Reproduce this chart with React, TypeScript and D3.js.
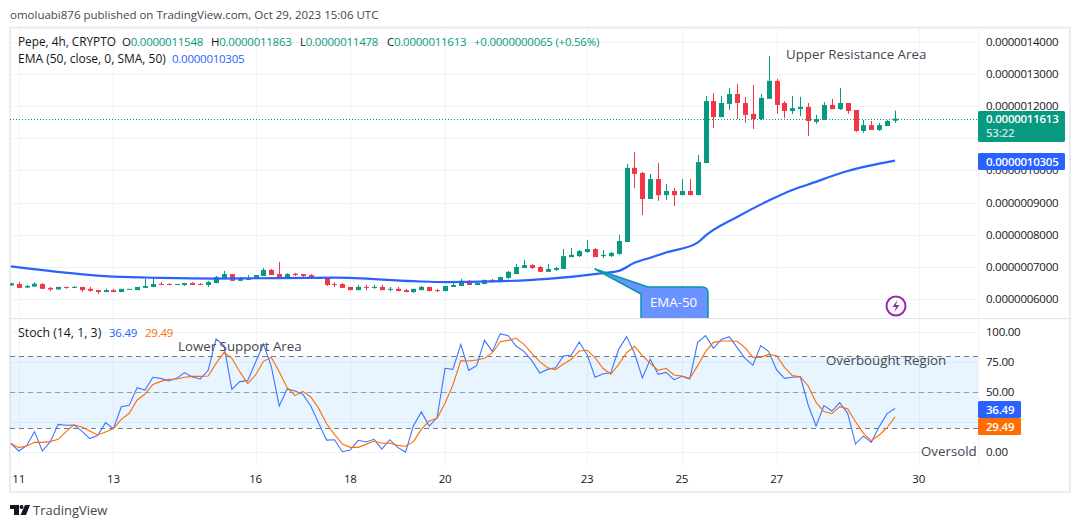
import React from "react";
import * as d3 from "d3";

// Candle values are in units of 0.0000001; first candle sits one bar before the "11" tick
const firstIndex = -1;
const opens = [6.42,6.46,6.35,6.38,6.46,6.34,6.29,6.37,6.35,6.37,6.31,6.27,6.21,6.27,6.21,6.29,6.27,6.34,6.37,6.46,6.46,6.44,6.43,6.49,6.46,6.43,6.49,6.62,6.77,6.56,6.59,6.62,6.71,6.90,6.77,6.65,6.78,6.77,6.74,6.68,6.65,6.46,6.46,6.37,6.27,6.37,6.35,6.37,6.29,6.31,6.27,6.21,6.27,6.37,6.27,6.24,6.37,6.40,6.56,6.43,6.46,6.59,6.52,6.65,6.77,6.96,7.05,6.99,6.84,6.90,6.93,7.30,7.33,7.46,7.55,7.33,7.33,7.40,7.77,10.08,9.92,9.11,9.73,9.23,9.36,9.23,9.36,9.23,10.23,12.16,11.66,12.07,12.38,12.10,11.76,11.60,12.23,12.79,12.10,11.85,11.91,11.98,11.51,11.57,12.04,11.91,12.10,11.88,11.23,11.41,11.26,11.38,11.548];
const highs = [6.50,6.52,6.43,6.52,6.49,6.37,6.37,6.37,6.40,6.37,6.37,6.27,6.31,6.31,6.31,6.31,6.37,6.62,6.68,6.52,6.49,6.46,6.49,6.52,6.49,6.56,6.71,6.87,6.77,6.68,6.74,6.74,6.96,6.93,7.15,6.80,6.81,6.77,6.77,6.68,6.65,6.52,6.49,6.37,6.43,6.43,6.43,6.43,6.37,6.37,6.31,6.31,6.40,6.37,6.31,6.40,6.49,6.62,6.59,6.49,6.59,6.62,6.68,6.87,7.08,7.21,7.08,7.02,7.08,6.99,7.55,7.58,7.52,7.83,7.58,7.52,7.46,7.99,10.20,10.57,9.95,9.89,10.23,9.58,9.45,9.73,9.73,10.48,12.32,12.41,12.32,12.57,12.69,12.29,12.66,12.38,13.56,12.85,12.16,12.32,12.29,12.10,11.73,12.13,12.23,12.57,12.10,11.88,11.57,11.54,11.48,11.57,11.863];
const lows = [6.40,6.34,6.34,6.37,6.31,6.24,6.29,6.31,6.34,6.21,6.22,6.15,6.21,6.21,6.21,6.29,6.27,6.34,6.37,6.43,6.43,6.44,6.40,6.43,6.43,6.37,6.49,6.62,6.56,6.56,6.59,6.62,6.71,6.74,6.65,6.62,6.71,6.68,6.65,6.62,6.40,6.37,6.34,6.27,6.27,6.27,6.31,6.27,6.24,6.24,6.21,6.18,6.27,6.24,6.21,6.24,6.37,6.40,6.43,6.43,6.46,6.52,6.52,6.62,6.77,6.96,6.93,6.84,6.84,6.87,6.93,7.30,7.30,7.43,7.30,7.27,7.30,7.37,7.77,9.45,8.61,9.11,9.05,9.08,8.89,9.23,9.23,9.23,10.23,11.32,11.66,11.88,11.60,11.48,11.29,11.57,12.23,11.76,11.63,11.76,11.69,11.07,11.45,11.57,11.91,11.88,11.76,11.20,11.17,11.26,11.23,11.38,11.478];
const closes = [6.48,6.34,6.40,6.47,6.31,6.29,6.37,6.34,6.37,6.27,6.25,6.21,6.27,6.21,6.31,6.31,6.37,6.40,6.46,6.43,6.43,6.46,6.49,6.43,6.43,6.52,6.68,6.77,6.56,6.65,6.65,6.74,6.90,6.74,6.65,6.77,6.74,6.71,6.65,6.62,6.43,6.43,6.34,6.27,6.37,6.34,6.37,6.27,6.31,6.24,6.21,6.31,6.37,6.24,6.24,6.40,6.43,6.56,6.43,6.49,6.59,6.52,6.68,6.84,6.99,7.05,6.96,6.84,6.93,6.96,7.33,7.37,7.49,7.55,7.30,7.37,7.43,7.80,10.08,9.89,9.11,9.73,9.23,9.36,9.23,9.36,9.23,10.26,12.16,11.66,12.10,12.38,12.10,11.73,11.60,12.26,12.79,12.04,11.85,11.94,11.98,11.54,11.60,12.04,11.91,12.10,11.85,11.23,11.41,11.26,11.41,11.54,11.613];

const emaIndex = [-1,12,18,25,30,40,50,54,60,67,74,76,78,80,82,86,87,91,95,98,100,105,111];
const emaValues = [7.01,6.69,6.65,6.63,6.64,6.66,6.55,6.52,6.54,6.62,6.80,6.87,7.12,7.28,7.44,7.75,7.97,8.55,9.06,9.39,9.56,9.98,10.305];

const stochK = [7.5,1.1,5.5,17.2,1.1,8.9,23.3,22.5,22.8,17.7,11.4,13.9,24.7,19.7,38,39.1,53.9,51.9,62.5,61.6,59.4,61.6,66.4,62.7,61.1,68.3,94.4,88.9,52.5,58.9,59.7,75,90.2,71.4,38.6,52.8,51.1,48.3,38.6,24.1,10.2,10.5,0.5,1.9,10,8.6,10.8,2.7,10.5,4.1,0.2,22.2,33.6,21.9,28.9,70,69.1,90,68.3,72.2,93.3,84.1,98.9,97.2,88.6,84.1,76.4,66.1,69.1,70.5,80.2,81.1,91.9,81.4,62.5,65.2,66.4,85.8,96.4,82.5,61.9,77.5,65,66.6,60.5,63.3,61.1,91.6,97.2,86.6,94.1,96.4,87.2,78.3,72.7,88.9,83.9,68.6,61.6,62.5,63,39.4,21.9,38.9,34.4,41.4,32.5,6.9,13.6,8.3,21.4,32.2,36.49];
const stochD = [7.5,3.9,5.2,8.3,8.3,8.9,10.8,17.2,22.8,21.1,17.7,14.4,16.9,19.7,27.5,32.5,43.6,48.6,56.6,59.1,60.8,61.1,62.5,63.3,63.3,63.6,74.1,83.3,78.3,67.2,57.2,64.4,75.8,79.1,67.2,53.9,47.2,50.8,46.1,36.6,23.8,15,6.9,4.1,4.1,6.6,9.4,7.5,7.8,5.8,5,8.9,19.1,26.1,28.3,40.8,56.1,76.4,76.1,76.9,78.3,83,92.2,93.3,95,90,82.5,75.5,70.5,68.9,73.6,77.5,84.4,85,78.9,70,65,73.3,83,88.3,80.5,74.1,68.3,70,64.4,63.6,61.6,72.2,83.9,91.6,92.7,92.7,92.5,87.2,79.1,79.1,81.6,80.5,70.8,63.9,63,55.3,41.6,33.9,32.2,38,36.4,25.5,15.8,9.7,14.4,20.5,29.49];

const priceTicks = [14,13,12,11,10,9,8,7,6];
const stochGrid = [100,75,50,25,0];
const stochTicks = [100,75,50,0];
const stochLevels = [80,50,20];
const dayTickIndex = [0,12,30,42,54,72,84,96,114];
const dayTickLabels = ["11","13","16","18","20","23","25","27","30"];

const FONT = "'Open Sans', 'Noto Sans', sans-serif";
const UP = "#089981";
const DOWN = "#f23645";
const BLUE = "#2962ff";
const ORANGE = "#ff6d00";
const GRID = "#f0f3fa";
const TEXT = "#131722";
const NOTE = "#434651";
const TIGHT = -0.25;

const priceLabel = (v: number) => (v / 1e7).toFixed(10);

export default function App() {
  const x = d3.scaleLinear().domain([0, 114]).range([18.7, 918.7]);
  const yP = d3.scaleLinear().domain([6, 14]).range([298.8, 42]);
  const yS = d3.scaleLinear().domain([0, 100]).range([452.3, 332.3]);
  const last = closes[closes.length - 1];
  const lastEma = emaValues[emaValues.length - 1];
  const lastK = stochK[stochK.length - 1];
  const lastD = stochD[stochD.length - 1];

  const emaLine = d3
    .line<number>()
    .x((_, i) => x(emaIndex[i]))
    .y((d) => yP(d))
    .curve(d3.curveMonotoneX)(emaValues) as string;
  const sLine = d3
    .line<number>()
    .x((_, i) => x(i + firstIndex))
    .y((d) => yS(d));

  const txt = { fontFamily: FONT, fontSize: 11.5 } as const;
  const num = { letterSpacing: TIGHT } as const;

  return (
    <svg
      width={1080}
      height={528}
      style={{ position: "absolute", left: 0, top: 0, background: "#fff", display: "block" }}
    >
      <defs>
        <clipPath id="mainClip">
          <rect x={10} y={28} width={968} height={290} />
        </clipPath>
        <clipPath id="stochClip">
          <rect x={10} y={319} width={968} height={146} />
        </clipPath>
      </defs>

      <text x={10} y={19} {...txt} fill={NOTE}>
        omoluabi876 published on TradingView.com, Oct 29, 2023 15:06 UTC
      </text>

      <rect x={10} y={27.5} width={1060} height={464.5} fill="none" stroke="#e9ecf2" strokeWidth={2} />

      {/* grid */}
      {dayTickIndex.map((d) => (
        <line key={d} x1={Math.round(x(d)) + 0.5} x2={Math.round(x(d)) + 0.5} y1={28} y2={465} stroke={GRID} />
      ))}
      {priceTicks.map((p) => (
        <line key={p} x1={10} x2={978} y1={Math.round(yP(p)) + 0.5} y2={Math.round(yP(p)) + 0.5} stroke={GRID} />
      ))}
      {stochGrid.map((s) => (
        <line key={s} x1={10} x2={978} y1={Math.round(yS(s)) + 0.5} y2={Math.round(yS(s)) + 0.5} stroke={GRID} />
      ))}
      <line x1={10} x2={1070} y1={318.5} y2={318.5} stroke="#e0e3eb" />
      <line x1={978.5} x2={978.5} y1={28} y2={465} stroke={GRID} />

      {/* candles */}
      <g clipPath="url(#mainClip)">
        {opens.map((o, i) => {
          const c = closes[i];
          const cx = Math.round(x(i + firstIndex));
          const col = c >= o ? UP : DOWN;
          const top = yP(Math.max(o, c));
          const bot = yP(Math.min(o, c));
          return (
            <g key={i} fill={col}>
              <rect x={cx} y={yP(highs[i])} width={1} height={yP(lows[i]) - yP(highs[i])} />
              <rect x={cx - 2} y={top} width={5} height={Math.max(1, bot - top)} />
            </g>
          );
        })}
        <line
          x1={10}
          x2={978}
          y1={Math.round(yP(last)) + 0.5}
          y2={Math.round(yP(last)) + 0.5}
          stroke={UP}
          strokeDasharray="1 2"
        />
        <path d={emaLine} fill="none" stroke={BLUE} strokeWidth={2.2} />

        {/* EMA-50 callout */}
        <path
          d="M595 269 L648 287 H702 Q708 287 708 293 V320 H641 V294 Z"
          fill="#6b93ff"
          stroke="#0097a7"
          strokeWidth={1.5}
          strokeLinejoin="round"
        />
        <text x={673.5} y={307} textAnchor="middle" fontFamily={FONT} fontSize={13.3} fill="#fff">
          EMA-50
        </text>

        {/* purple bolt icon */}
        <circle cx={896} cy={306} r={9.5} fill="#fff" stroke="#9c27b0" strokeWidth={2} />
        <path d="M897.5 300 L892.5 307 H896 L894.5 312 L899.5 305 H896 Z" fill="#9c27b0" />
      </g>

      {/* stochastic */}
      <g clipPath="url(#stochClip)">
        <rect
          x={10}
          y={yS(stochLevels[0])}
          width={968}
          height={yS(stochLevels[2]) - yS(stochLevels[0])}
          fill="#2196f3"
          fillOpacity={0.1}
        />
        {stochLevels.map((l) => (
          <line
            key={l}
            x1={10}
            x2={978}
            y1={Math.round(yS(l)) + 0.5}
            y2={Math.round(yS(l)) + 0.5}
            stroke="#787b86"
            strokeDasharray="5 4"
            strokeOpacity={l === 50 ? 0.7 : 1}
          />
        ))}
        <path d={sLine(stochK) as string} fill="none" stroke="#3f74ff" strokeWidth={1.1} />
        <path d={sLine(stochD) as string} fill="none" stroke={ORANGE} strokeWidth={1.1} />
      </g>

      {/* legend */}
      <g {...txt}>
        <text x={18} y={46} fill={TEXT} fontSize={11.8}>Pepe, 4h, CRYPTO</text>
        <text x={122} y={46} fill={TEXT} {...num}>O<tspan fill={UP}>0.0000011548</tspan></text>
        <text x={211} y={46} fill={TEXT} {...num}>H<tspan fill={UP}>0.0000011863</tspan></text>
        <text x={300} y={46} fill={TEXT} {...num}>L<tspan fill={UP}>0.0000011478</tspan></text>
        <text x={387} y={46} fill={TEXT} {...num}>C<tspan fill={UP}>0.0000011613</tspan></text>
        <text x={474} y={46} fill={UP} {...num}>+0.0000000065 (+0.56%)</text>
        <text x={18} y={63} fill={TEXT} fontSize={12}>EMA (50, close, 0, SMA, 50)</text>
        <text x={172} y={63} fill={BLUE} {...num}>{priceLabel(lastEma)}</text>
        <text x={18} y={337} fill={TEXT} fontSize={12.3}>Stoch (14, 1, 3)</text>
        <text x={109} y={337} fill={BLUE} {...num}>{lastK.toFixed(2)}</text>
        <text x={145} y={337} fill={ORANGE} {...num}>{lastD.toFixed(2)}</text>
      </g>

      {/* annotations */}
      <g fontFamily={FONT} fontSize={13.3} fill={NOTE}>
        <text x={786} y={59}>Upper Resistance Area</text>
        <text x={178} y={351}>Lower Support Area</text>
        <text x={826} y={365}>Overbought Region</text>
        <text x={921} y={456}>Oversold</text>
      </g>

      {/* axes */}
      <g {...txt} {...num} fill={TEXT}>
        {priceTicks.map((p) => (
          <text key={p} x={986} y={yP(p) + 4}>{priceLabel(p)}</text>
        ))}
        {stochTicks.map((s) => (
          <text key={s} x={986} y={yS(s) + 4}>{s.toFixed(2)}</text>
        ))}
        {dayTickIndex.map((d, i) => (
          <text key={d} x={x(d)} y={483} textAnchor="middle">{dayTickLabels[i]}</text>
        ))}
      </g>

      {/* tags */}
      <g {...txt} {...num} fontWeight={600}>
        <rect x={978} y={111} width={87} height={31} rx={1.5} fill={UP} />
        <text x={986} y={123} fill="#fff">{priceLabel(last)}</text>
        <text x={986} y={137} fill="#fff" fillOpacity={0.8}>53:22</text>
        <rect x={978} y={153} width={87} height={17} rx={1.5} fill={BLUE} />
        <text x={986} y={166} fill="#fff">{priceLabel(lastEma)}</text>
        <rect x={978} y={401} width={43} height={17} rx={1.5} fill={BLUE} />
        <text x={986} y={414} fill="#fff">{lastK.toFixed(2)}</text>
        <rect x={978} y={418} width={43} height={17} rx={1.5} fill={ORANGE} />
        <text x={986} y={431} fill="#fff">{lastD.toFixed(2)}</text>
      </g>

      {/* TradingView logo */}
      <g fill="#131722">
        <path d="M10 505 H19 V515 H14 V509 H10 Z" />
        <circle cx={21.5} cy={507} r={2} />
        <path d="M25 505 H30 L26 515 H20.5 Z" />
      </g>
      <text x={33} y={515} fontFamily={FONT} fontSize={13} fill={NOTE}>TradingView</text>
    </svg>
  );
}
